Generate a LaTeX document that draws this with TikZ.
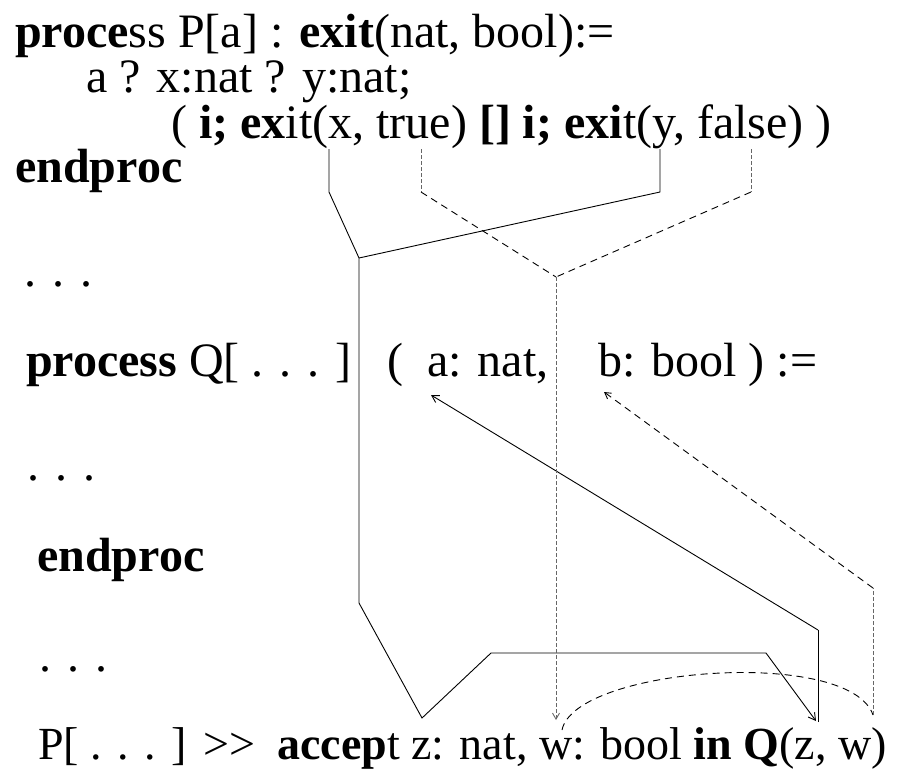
\documentclass[tikz,border=0pt]{standalone}
\usepackage{fontspec}
\setmainfont{Liberation Serif}
\usetikzlibrary{arrows.meta}

\begin{document}
\begin{tikzpicture}[x=1pt, y=-1pt,
    codeline/.style={anchor=base west, inner sep=0pt, font=\fontsize{48}{58}\selectfont},
    lastline/.style={codeline, font=\fontsize{46}{56}\selectfont},
    flow/.style={line width=0.9pt, black},
    flowarrow/.style={flow, -{Straight Barb[length=7pt, width=8pt]}},
    datadash/.style={line width=0.9pt, dash pattern=on 7pt off 5pt},
    datadot/.style={line width=0.9pt, gray!80!black, dash pattern=on 4pt off 2pt},
    datadotarrow/.style={datadot, -{Straight Barb[length=6pt, width=7pt]}},
    datadasharrow/.style={datadash, -{Straight Barb[length=6pt, width=7pt]}}
]
    \useasboundingbox (0,0) rectangle (912,771);

    % process P
    \node[codeline] (pHead) at (15,47) {\textbf{proce}ss P[a] : \textbf{exit}(nat, bool):=};
    \node[codeline] (pInput) at (86,92) {a ? x:nat ? y:nat;};
    \node[codeline] (pChoice) at (171,138) {( \textbf{i; ex}it(x, true) \textbf{[] i; exi}t(y, false) )};
    \node[codeline] (pEnd) at (15,182) {\textbf{endproc}};

    % process Q
    \node[codeline] (dots1) at (24,286) {. . .};
    \node[codeline] (qHead) at (26,376) {\textbf{process} Q[ . . . ]};
    \node[codeline] (qParA) at (387,376) {(~~a: nat,};
    \node[codeline] (qParB) at (598,376) {b: bool ) :=};
    \node[codeline] (dots2) at (27,480) {. . .};
    \node[codeline] (qEnd) at (37,571) {\textbf{endproc}};
    \node[codeline] (dots3) at (39,671) {. . .};

    % enabling
    \node[lastline] (enableP) at (38,759) {P[ . . . ]};
    \node[lastline] (enableOp) at (203,759) {>\kern0pt>};
    \node[lastline] (enableQ) at (277,759) {\textbf{accep}t z: nat, w: bool \textbf{in Q}(z, w)};

    % points on the text
    \coordinate (xOut) at (329,149);
    \coordinate (xBend) at (329,192);
    \coordinate (yOut) at (660,149);
    \coordinate (yBend) at (660,192);
    \coordinate (zMerge) at (359,258);
    \coordinate (zDown) at (359,603);
    \coordinate (zAcc) at (422,718);
    \coordinate (zRise) at (491,653);
    \coordinate (zRun) at (766,653);
    \coordinate (qz) at (816,721);
    \coordinate (qzBase) at (818,722);
    \coordinate (qzUp) at (818,630);
    \coordinate (aPar) at (431,395);
    \coordinate (trueOut) at (421,149);
    \coordinate (trueBend) at (421,192);
    \coordinate (falseOut) at (751,149);
    \coordinate (falseBend) at (751,192);
    \coordinate (wMerge) at (556,277);
    \coordinate (wAcc) at (556,720);
    \coordinate (wArc) at (562,730);
    \coordinate (qw) at (873,715);
    \coordinate (qwUp) at (873,588);
    \coordinate (bPar) at (604,392);

    % nat values
    \draw[flow] (xOut) -- (xBend) -- (zMerge);
    \draw[flow] (yOut) -- (yBend) -- (zMerge);
    \draw[flow] (zMerge) -- (zDown) -- (zAcc) -- (zRise) -- (zRun);
    \draw[flowarrow] (zRun) -- (qz);
    \draw[flow] (qzBase) -- (qzUp);
    \draw[flowarrow] (qzUp) -- (aPar);

    % bool values
    \draw[datadot] (trueOut) -- (trueBend);
    \draw[datadash] (trueBend) -- (wMerge);
    \draw[datadot] (falseOut) -- (falseBend);
    \draw[datadash] (falseBend) -- (wMerge);
    \draw[datadotarrow] (wMerge) -- (wAcc);
    \draw[datadash] (wArc) .. controls (575,667) and (850,647) .. (qw);
    \draw[datadot] (qw) -- (qwUp);
    \draw[datadasharrow] (qwUp) -- (bPar);
\end{tikzpicture}
\end{document}
